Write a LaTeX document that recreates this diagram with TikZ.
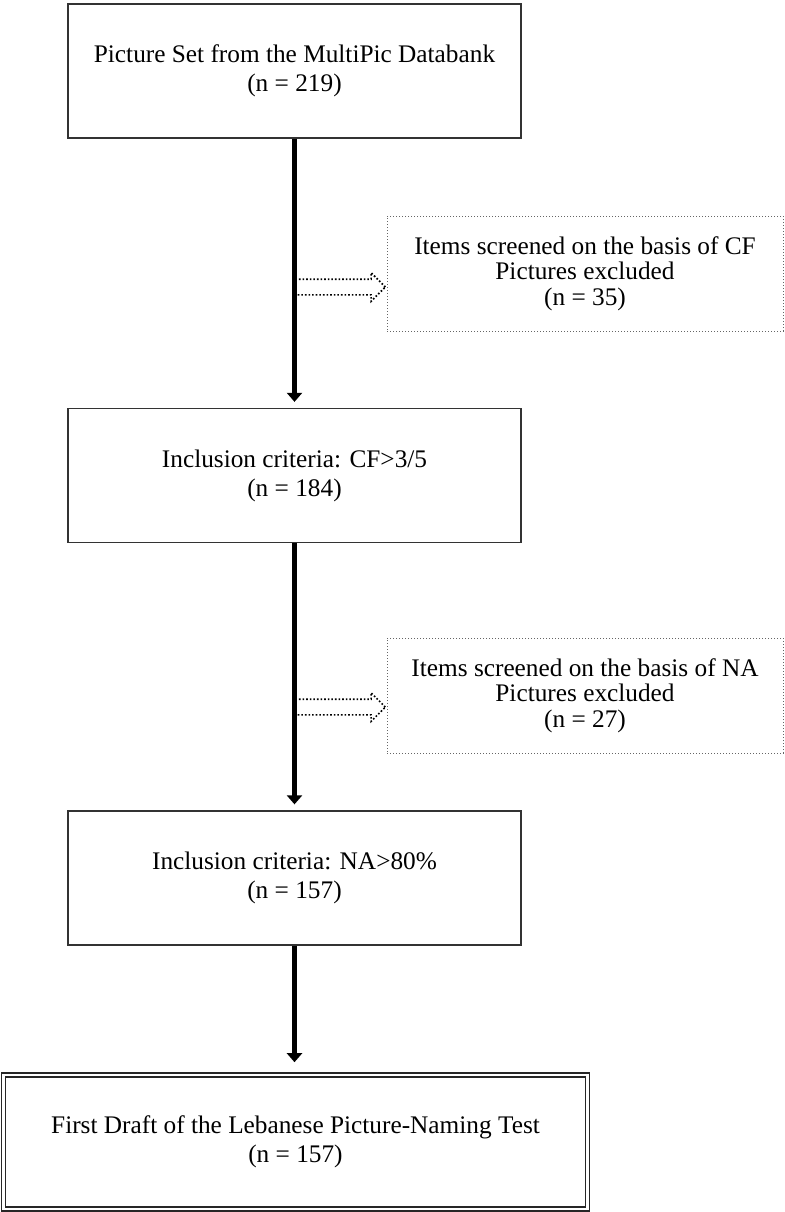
\documentclass[tikz,border=0pt]{standalone}
\usepackage{fontspec}
\setmainfont{Liberation Serif}
\usetikzlibrary{arrows.meta,shapes.arrows}

\begin{document}
\begin{tikzpicture}[x=1pt,y=-1pt,
				every node/.style={align=center,font=\fontsize{25.3}{25.5}\selectfont},
				box/.style={draw=black!80,line width=1.3pt,minimum width=453pt,minimum height=134pt,inner sep=0pt,font=\fontsize{25.3}{29}\selectfont},
				sidebox/.style={draw=black!60,dotted,line width=1pt,minimum width=396pt,minimum height=115pt,inner sep=0pt},
				finalbox/.style={draw=black!85,double,double distance=2.2pt,line width=1.6pt,minimum width=584pt,minimum height=134pt,inner sep=0pt,font=\fontsize{25.3}{29}\selectfont},
				flow/.style={line width=5pt,-{Triangle[width=15pt,length=9pt]},shorten >=6pt},
				skiparrow/.style={single arrow,draw,dotted,line width=1.6pt,inner xsep=0pt,inner ysep=7pt,minimum height=91pt,single arrow head extend=6.5pt}]
\useasboundingbox (0,0) rectangle (784,1212);
\node[box] (pic) at (294.5,71) {Picture Set from the MultiPic Databank\\(n = 219)};
\node[box] (cf) at (294.5,475.5) {Inclusion criteria: CF>3/5\\(n = 184)};
\node[box] (na) at (294.5,878) {Inclusion criteria: NA>80\%\\(n = 157)};
\node[finalbox] (draft) at (295.5,1142) {First Draft of the Lebanese Picture-Naming Test\\(n = 157)};
\node[sidebox] (excf) at (585,273.5) {Items screened on the basis of CF\\Pictures excluded\\(n = 35)};
\node[sidebox] (exna) at (585,695.5) {Items screened on the basis of NA\\Pictures excluded\\(n = 27)};
\draw[flow] (pic) -- (cf);
\draw[flow] (cf) -- (na);
\draw[flow,shorten >=12pt] (na.south) -- (na.south |- draft.north);
\node[skiparrow,anchor=tip] (skipcf) at (excf.west |- 0,287) {};
\node[skiparrow,anchor=tip] (skipna) at (exna.west |- 0,707) {};
\end{tikzpicture}
\end{document}
